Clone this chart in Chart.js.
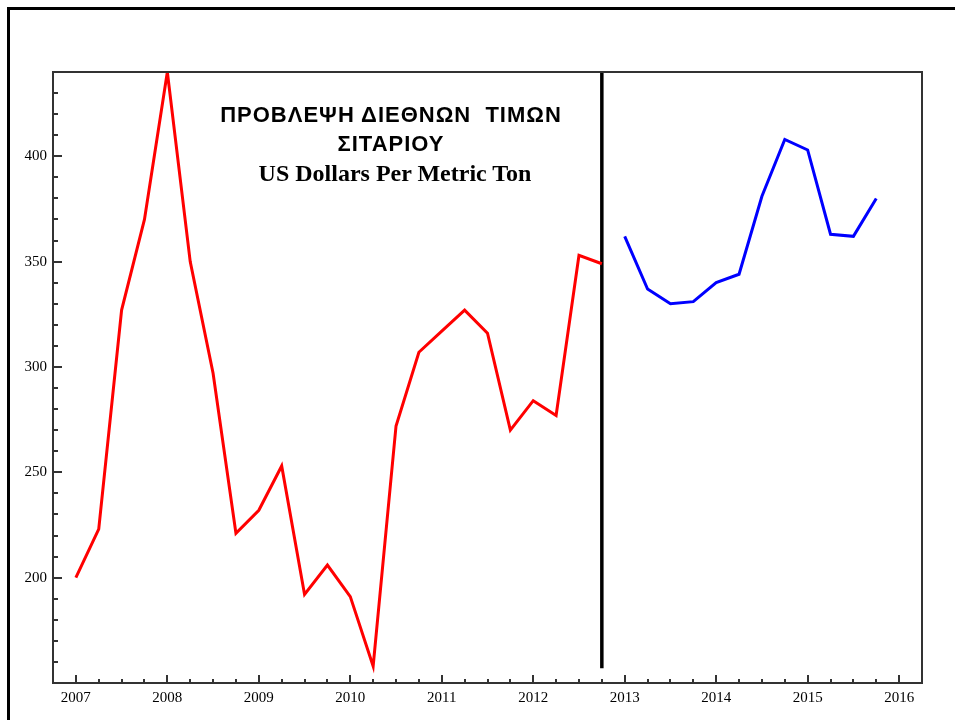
<!DOCTYPE html>
<html>
<head>
<meta charset="utf-8">
<script src="https://cdn.jsdelivr.net/npm/chart.js@4.4.1/dist/chart.umd.min.js"></script>
<style>
  html, body { margin: 0; padding: 0; background: #fff; overflow: hidden; }
  #frame { position: absolute; left: 7px; top: 7px; width: 960px; height: 720px;
    border-left: 3px solid #000; border-top: 3px solid #000; }
  #chart { position: absolute; left: 0; top: 0; }
  .title { position: absolute; text-align: center; color: #000; white-space: pre; }
  #t1, #t2 { left: 191px; width: 400px; font: bold 22px "Liberation Sans", Arial, sans-serif;
    line-height: 22px; letter-spacing: 1px; }
  #t1 { top: 104px; }
  #t2 { top: 133px; }
  #t3 { left: 195px; width: 400px; top: 161px; font: bold 24px "Liberation Serif", "Times New Roman", serif; line-height: 24px; }
</style>
</head>
<body>
<div id="frame"></div>
<canvas id="chart" width="955" height="720"></canvas>
<div class="title" id="t1">ΠΡΟΒΛΕΨΗ ΔΙΕΘΝΩΝ  ΤΙΜΩΝ</div>
<div class="title" id="t2">ΣΙΤΑΡΙΟΥ</div>
<div class="title" id="t3">US Dollars Per Metric Ton</div>
<script>
// DADOS
const histQuarters = [2007, 2007.25, 2007.5, 2007.75, 2008, 2008.25, 2008.5, 2008.75,
  2009, 2009.25, 2009.5, 2009.75, 2010, 2010.25, 2010.5, 2010.75,
  2011, 2011.25, 2011.5, 2011.75, 2012, 2012.25, 2012.5, 2012.75];
const histPrices = [200, 223, 327, 370, 440, 350, 297, 221,
  232, 253, 192, 206, 191, 158, 272, 307,
  317, 327, 316, 270, 284, 277, 353, 349];

const forecastQuarters = [2013, 2013.25, 2013.5, 2013.75, 2014, 2014.25,
  2014.5, 2014.75, 2015, 2015.25, 2015.5, 2015.75];
const forecastPrices = [362, 337, 330, 331, 340, 344, 381, 408, 403, 363, 362, 380];

const dividerX = [2012.75, 2012.75];
const dividerY = [157, 440];

const yearTicks = [2007, 2008, 2009, 2010, 2011, 2012, 2013, 2014, 2015, 2016];
const priceTicks = [200, 250, 300, 350, 400];

const tickFont = { family: "'Liberation Serif', 'Times New Roman', serif", size: 15 };

function pontos(xs, ys) {
  return xs.map((x, i) => ({ x: x, y: ys[i] }));
}

// marcas internas + moldura do gráfico
const marcas = {
  id: "marcas",
  afterDatasetsDraw(chart) {
    const { ctx, chartArea: a, scales } = chart;
    const sx = scales.x, sy = scales.y;
    ctx.save();
    ctx.strokeStyle = "#333";
    ctx.lineWidth = 2;
    ctx.beginPath();
    for (let q = Math.ceil(sx.min * 4); q <= sx.max * 4; q++) {
      const v = q / 4;
      const px = Math.round(sx.getPixelForValue(v));
      const len = q % 4 === 0 ? 8 : 4;
      ctx.moveTo(px, a.bottom);
      ctx.lineTo(px, a.bottom - len);
    }
    for (let v = Math.ceil(sy.min / 10) * 10; v <= sy.max; v += 10) {
      const py = Math.round(sy.getPixelForValue(v));
      const len = v % 50 === 0 ? 9 : 5;
      ctx.moveTo(a.left, py);
      ctx.lineTo(a.left + len, py);
    }
    ctx.stroke();
    ctx.strokeRect(a.left, a.top, a.right - a.left, a.bottom - a.top);
    ctx.restore();
  },
};

const chart = new Chart(document.getElementById("chart"), {
  type: "line",
  data: {
    datasets: [
      { data: pontos(histQuarters, histPrices), borderColor: "#ff0000", borderWidth: 3 },
      { data: pontos(forecastQuarters, forecastPrices), borderColor: "#0000ff", borderWidth: 3 },
      { data: pontos(dividerX, dividerY), borderColor: "#000", borderWidth: 3.5 },
    ],
  },
  options: {
    responsive: false,
    animation: false,
    devicePixelRatio: 1,
    elements: { point: { radius: 0 }, line: { tension: 0, borderCapStyle: "butt" } },
    layout: { padding: { left: 0, top: 72, right: 33, bottom: 0 } },
    plugins: { legend: { display: false }, tooltip: { enabled: false } },
    scales: {
      x: {
        type: "linear",
        min: 2006.75,
        max: 2016.25,
        afterBuildTicks: (s) => { s.ticks = yearTicks.map((v) => ({ value: v })); },
        afterFit: (s) => { s.height = 37; },
        grid: { display: false, drawTicks: false },
        border: { display: false },
        ticks: { font: tickFont, color: "#000", padding: 6, maxRotation: 0, autoSkip: false,
          callback: (v) => String(v) },
      },
      y: {
        min: 150,
        max: 440,
        afterBuildTicks: (s) => { s.ticks = priceTicks.map((v) => ({ value: v })); },
        afterFit: (s) => { s.width = 53; },
        grid: { display: false, drawTicks: false },
        border: { display: false },
        ticks: { font: tickFont, color: "#000", padding: 6, callback: (v) => String(v) },
      },
    },
  },
  plugins: [marcas],
});
</script>
</body>
</html>
